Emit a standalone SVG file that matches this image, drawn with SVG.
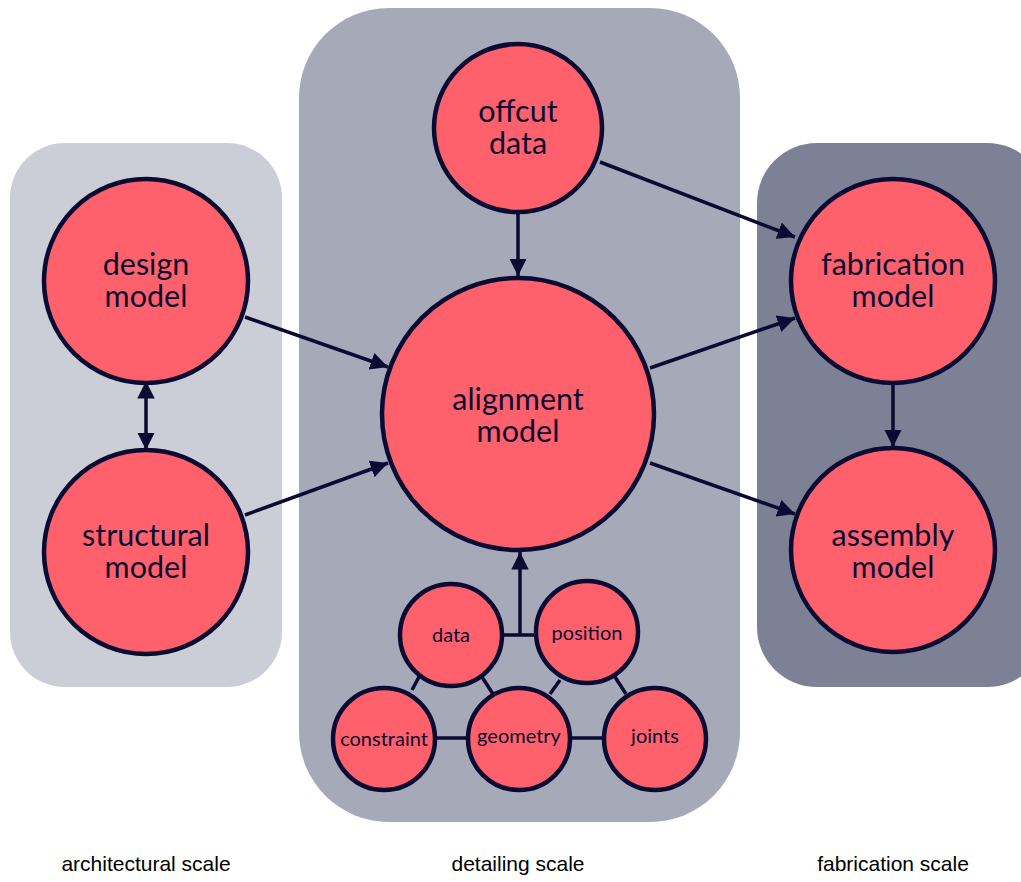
<svg xmlns="http://www.w3.org/2000/svg" width="1021" height="882" viewBox="0 0 1021 882">
<style>
.n{fill:#fe616c;stroke:#0a0a32;stroke-width:4.5}
.t{font-family:Lato,"Open Sans",sans-serif;font-size:30.5px;fill:#0a0a32;text-anchor:middle}
.s{font-family:Lato,"Open Sans",sans-serif;font-size:20px;fill:#0a0a32;text-anchor:middle}
.c{stroke:#0a0a32;stroke-width:3.5;fill:none}
.a{marker-end:url(#ah)}
.l{font-family:"Liberation Sans",Arial,sans-serif;font-size:21px;fill:#000;text-anchor:middle}
</style>
<defs>
<marker id="ah" viewBox="0 0 10 10" refX="10" refY="5" markerWidth="5" markerHeight="5" orient="auto-start-reverse" markerUnits="strokeWidth">
<path d="M0,0 L10,5 L0,10 z" fill="#0a0a32"/>
</marker>
</defs>
<rect width="1021" height="882" fill="#fff"/>
<g id="panels">
<rect x="10" y="143" width="272" height="544" rx="55" fill="#cbced6"/>
<rect x="299" y="8" width="441" height="814" rx="90" fill="#a5a9b8"/>
<rect x="757" y="143" width="290" height="544" rx="60" fill="#7d8195"/>
</g>
<g id="connectors">
<line class="c a" x1="245" y1="317" x2="388" y2="367"/>
<line class="c a" x1="245" y1="515" x2="388" y2="463"/>
<line class="c a" x1="146" y1="381" x2="146" y2="450" marker-start="url(#ah)"/>
<line class="c a" x1="518" y1="212" x2="518" y2="276"/>
<line class="c a" x1="600" y1="162" x2="795" y2="237"/>
<line class="c a" x1="650" y1="368" x2="795" y2="318"/>
<line class="c a" x1="650" y1="463" x2="795" y2="514"/>
<line class="c a" x1="893" y1="383" x2="893" y2="447"/>
<polyline class="c" points="503,635 520,635 535,635"/>
<line class="c a" x1="520" y1="635" x2="520" y2="552"/>
<line class="c" x1="420" y1="675" x2="412" y2="690"/>
<line class="c" x1="482" y1="677" x2="493" y2="694"/>
<line class="c" x1="560" y1="680" x2="550" y2="694"/>
<line class="c" x1="615" y1="677" x2="626" y2="694"/>
<line class="c" x1="436" y1="738" x2="467" y2="738"/>
<line class="c" x1="572" y1="738" x2="603" y2="738"/>
</g>
<g id="offcut"><circle class="n" cx="518" cy="128" r="84"/><text class="t" x="518" y="122">offcut</text><text class="t" x="518" y="154">data</text></g>
<g id="design"><circle class="n" cx="146" cy="281" r="102"/><text class="t" x="146" y="275">design</text><text class="t" x="146" y="307">model</text></g>
<g id="structural"><circle class="n" cx="146" cy="552" r="102"/><text class="t" x="146" y="546">structural</text><text class="t" x="146" y="578">model</text></g>
<g id="alignment"><circle class="n" cx="518" cy="414" r="136"/><text class="t" x="518" y="410">alignment</text><text class="t" x="518" y="442">model</text></g>
<g id="fabrication"><circle class="n" cx="893" cy="281" r="102"/><text class="t" x="893" y="275">fabrication</text><text class="t" x="893" y="307">model</text></g>
<g id="assembly"><circle class="n" cx="893" cy="550" r="102"/><text class="t" x="893" y="546">assembly</text><text class="t" x="893" y="578">model</text></g>
<g id="data"><circle class="n" cx="451" cy="635" r="51"/><text class="s" x="451" y="642">data</text></g>
<g id="position"><circle class="n" cx="587" cy="632" r="51"/><text class="s" x="587" y="640">position</text></g>
<g id="constraint"><circle class="n" cx="384" cy="739" r="51"/><text class="s" x="384" y="746">constraint</text></g>
<g id="geometry"><circle class="n" cx="519" cy="739" r="51"/><text class="s" x="519" y="743">geometry</text></g>
<g id="joints"><circle class="n" cx="655" cy="739" r="51"/><text class="s" x="655" y="743">joints</text></g>
<g id="labels">
<text class="l" x="146" y="871">architectural scale</text>
<text class="l" x="518" y="871">detailing scale</text>
<text class="l" x="893" y="871">fabrication scale</text>
</g>
</svg>
